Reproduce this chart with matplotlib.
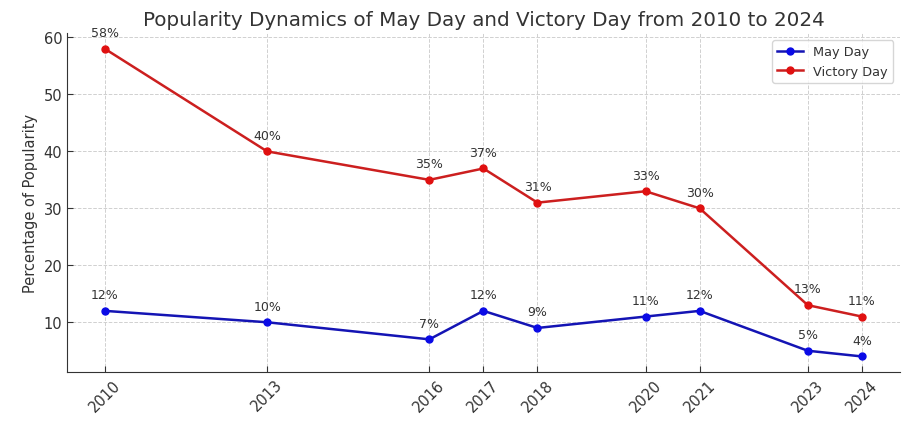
import matplotlib.pyplot as plt

years = [2010, 2013, 2016, 2017, 2018, 2020, 2021, 2023, 2024]
may_day = [12, 10, 7, 12, 9, 11, 12, 5, 4]
victory_day = [58, 40, 35, 37, 31, 33, 30, 13, 11]

text_col = "#333333"

fig, ax = plt.subplots(figsize=(9.19, 4.31), dpi=100)

ax.plot(years, may_day, color="#1414b4", marker="o", markersize=5,
        markerfacecolor="#0a0ae6", markeredgecolor="#0a0ae6", lw=1.8, label="May Day")
ax.plot(years, victory_day, color="#cc1f1f", marker="o", markersize=5,
        markerfacecolor="#e01010", markeredgecolor="#e01010", lw=1.8, label="Victory Day")

for x, y in zip(years, may_day):
    ax.annotate(f"{y}%", (x, y), xytext=(0, 7), textcoords="offset points",
                ha="center", va="bottom", fontsize=9, color=text_col)
for x, y in zip(years, victory_day):
    ax.annotate(f"{y}%", (x, y), xytext=(0, 7), textcoords="offset points",
                ha="center", va="bottom", fontsize=9, color=text_col)

ax.set_title("Popularity Dynamics of May Day and Victory Day from 2010 to 2024",
             fontsize=14.3, color=text_col, pad=6)
ax.set_ylabel("Percentage of Popularity", fontsize=10.5, color=text_col)
ax.set_xticks(years)
ax.set_xticklabels([str(y) for y in years], rotation=45)
ax.tick_params(direction="in", labelsize=10.5, colors=text_col, length=4)
ax.set_yticks([10, 20, 30, 40, 50, 60])

ax.grid(True, linestyle="--", color="#d0d0d0", lw=0.7)
for s in ["top", "right"]:
    ax.spines[s].set_visible(False)
for s in ["left", "bottom"]:
    ax.spines[s].set_color(text_col)

leg = ax.legend(loc="upper right", fontsize=9.3, labelcolor=text_col)

plt.subplots_adjust(left=0.073, right=0.979, top=0.92, bottom=0.135)
plt.savefig("out.png", dpi=100)
